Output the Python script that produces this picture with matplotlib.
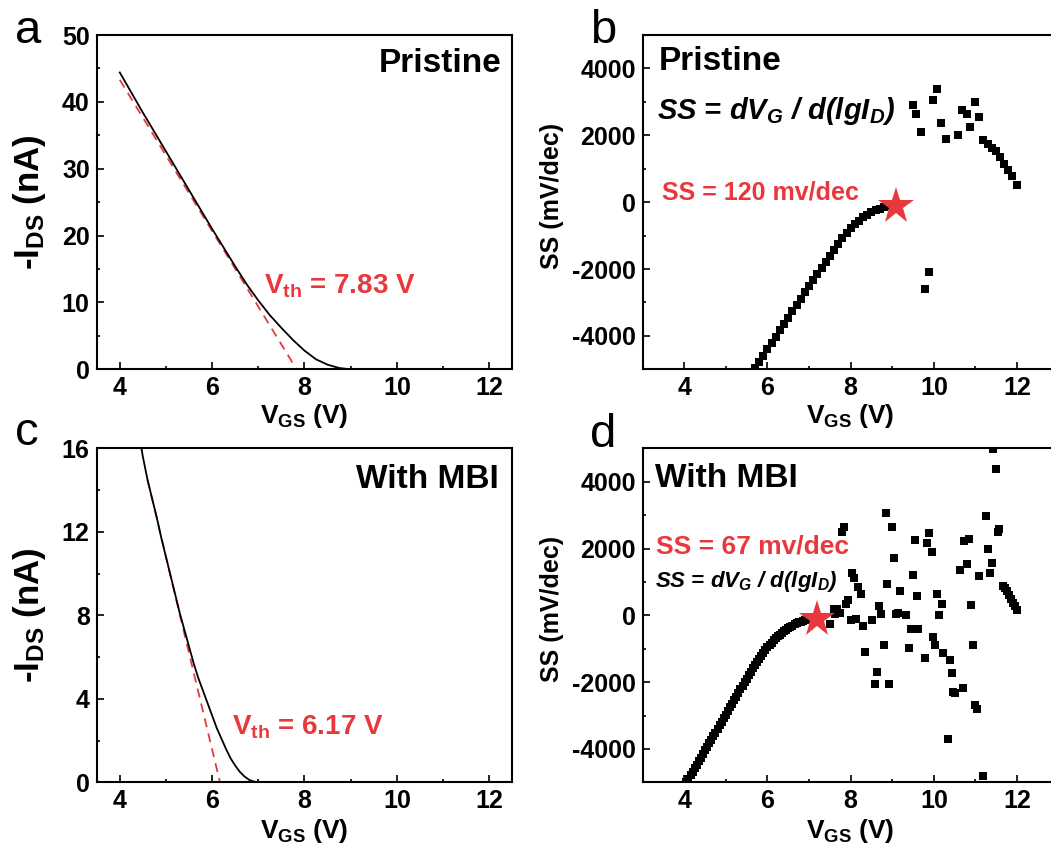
import matplotlib
matplotlib.use("Agg")
import matplotlib.pyplot as plt
from matplotlib.ticker import MultipleLocator

# ---------------------------------------------------------
# data
# ---------------------------------------------------------
# (a) transfer curve, pristine
vgs_a = [4.00, 4.25, 4.50, 4.75, 5.00, 5.25, 5.50, 5.75, 6.00, 6.25, 6.50,
         6.75, 7.00, 7.25, 7.50, 7.75, 8.00, 8.25, 8.50, 8.75, 9.00]
ids_a = [44.4, 41.4, 38.4, 35.5, 32.6, 29.7, 26.8, 23.9, 21.0, 18.2, 15.4,
         12.7, 10.3, 8.1, 6.2, 4.4, 2.8, 1.5, 0.7, 0.2, 0.0]
fit_a_v = [4.0, 7.83]
fit_a_i = [43.3, 0.0]

# (c) transfer curve, with MBI
vgs_c = [4.40, 4.50, 4.60, 4.70, 4.80, 4.90, 5.00, 5.10, 5.20, 5.30, 5.40,
         5.50, 5.60, 5.70, 5.80, 5.90, 6.00, 6.10, 6.20, 6.30, 6.40, 6.50,
         6.60, 6.70, 6.80, 6.90, 7.00]
ids_c = [16.9, 15.6, 14.5, 13.6, 12.7, 11.7, 10.8, 9.9, 9.0, 8.1, 7.3,
         6.5, 5.7, 5.0, 4.4, 3.8, 3.2, 2.6, 2.1, 1.6, 1.15, 0.8,
         0.5, 0.28, 0.12, 0.04, 0.0]
fit_c_v = [4.6, 6.17]
fit_c_i = [14.5, 0.0]

# (b) subthreshold swing, pristine
ss_b_v = [5.7, 5.8, 5.9, 6.0, 6.1, 6.2, 6.3, 6.4, 6.5, 6.6, 6.7, 6.8,
          6.9, 7.0, 7.1, 7.2, 7.3, 7.4, 7.5, 7.6, 7.7, 7.8, 7.9, 8.0,
          8.1, 8.2, 8.3, 8.4, 8.5, 8.6, 8.7, 8.8, 8.9, 9.0,
          9.49, 9.58, 9.69, 9.79, 9.89, 9.98, 10.08, 10.18, 10.28, 10.59,
          10.67, 10.79, 10.88, 10.99, 11.09, 11.19, 11.29, 11.39, 11.49,
          11.59, 11.69, 11.79, 11.89, 11.99]
ss_b = [-4970, -4780, -4590, -4400, -4210, -4020, -3830, -3640, -3455,
        -3265, -3075, -2890, -2700, -2515, -2330, -2150, -1960, -1775,
        -1595, -1420, -1245, -1080, -925, -785, -660, -550, -455, -375,
        -305, -245, -195, -155, -120, -95,
        2920, 2640, 2100, -2600, -2100, 3070, 3400, 2370, 1890, 2010,
        2770, 2630, 2250, 3010, 2550, 1850, 1750, 1620, 1520,
        1350, 1150, 970, 770, 520]
star_b = (9.1, -120)

# (d) subthreshold swing, with MBI
ss_d_v = [4.05, 4.10, 4.15, 4.20, 4.25, 4.30, 4.35, 4.40, 4.45, 4.50,
          4.55, 4.60, 4.65, 4.70, 4.75, 4.80, 4.85, 4.90, 4.95, 5.00,
          5.05, 5.10, 5.15, 5.20, 5.25, 5.30, 5.35, 5.40, 5.45, 5.50,
          5.55, 5.60, 5.65, 5.70, 5.75, 5.80, 5.85, 5.90, 5.95, 6.00,
          6.05, 6.10, 6.15, 6.20, 6.25, 6.30, 6.35, 6.40, 6.45, 6.50,
          6.55, 6.60, 6.65, 6.70, 6.75, 6.80, 6.85, 6.90, 6.95, 7.00,
          7.05, 7.10, 7.15,
          7.50, 7.60, 7.62, 7.66, 7.74, 7.79, 7.84, 7.89, 7.94, 8.00,
          8.03, 8.08, 8.13, 8.18, 8.24, 8.29, 8.34, 8.51, 8.59, 8.64,
          8.69, 8.73, 8.79, 8.84, 8.88, 8.93, 8.99, 9.04, 9.09, 9.13,
          9.19, 9.33, 9.39, 9.44, 9.49, 9.55, 9.59, 9.63, 9.79, 9.84,
          9.89, 9.95, 9.99, 10.03, 10.08, 10.13, 10.19, 10.23, 10.33, 10.39,
          10.44, 10.47, 10.51, 10.63, 10.69, 10.73, 10.79, 10.85, 10.89, 10.93,
          10.98, 11.04, 11.09, 11.19, 11.25, 11.30, 11.34, 11.39, 11.43, 11.49,
          11.54, 11.57, 11.65, 11.70, 11.75, 11.80, 11.85, 11.90, 11.95, 12.00]
ss_d = [-5000, -4900, -4790, -4690, -4580, -4470, -4370, -4260, -4150, -4040,
        -3940, -3830, -3720, -3610, -3510, -3400, -3290, -3190, -3080, -2980,
        -2870, -2760, -2650, -2550, -2440, -2330, -2220, -2120, -2010, -1900,
        -1800, -1690, -1590, -1490, -1390, -1300, -1210, -1120, -1040, -960,
        -885, -815, -750, -690, -630, -575, -525, -475, -430, -385,
        -345, -310, -275, -245, -215, -190, -165, -145, -125, -105,
        -90, -75, -65,
        -250, 200, 50, 200, 70, 2500, 2630, 330, 450, -150,
        1270, 1130, -100, 850, 650, -320, -1100, -150, -2050, -1710,
        280, 50, -880, 3070, 930, -2070, 2650, 1730, 30, 70,
        730, 20, -970, -400, 1220, 2270, 580, -420, -1270, 2170,
        2450, 1900, -650, -900, 630, 10, 350, -1130, -3710, -1350,
        -1720, -2300, -2320, 1370, -2170, 2230, 1550, 2290, 300, -880,
        -2680, -2820, 1190, -4820, 2970, 1980, 1280, 1570, 4970, 4370,
        2500, 2570, 870, 810, 720, 610, 500, 380, 270, 170]
star_d = (7.18, -100)

RED = "#E8383D"

plt.rcParams["font.family"] = ["Liberation Sans", "DejaVu Sans"]
plt.rcParams["font.weight"] = "bold"
plt.rcParams["axes.labelweight"] = "bold"
plt.rcParams["axes.unicode_minus"] = False
plt.rcParams["mathtext.fontset"] = "custom"
plt.rcParams["mathtext.rm"] = "Liberation Sans:bold"
plt.rcParams["mathtext.bf"] = "Liberation Sans:bold"
plt.rcParams["mathtext.it"] = "Liberation Sans:italic:bold"

fig = plt.figure(figsize=(10.51, 8.52), dpi=100)
ax_a = fig.add_axes([0.092, 0.5665, 0.3954, 0.3924])
ax_b = fig.add_axes([0.6115, 0.5665, 0.3958, 0.3924])
ax_c = fig.add_axes([0.092, 0.0818, 0.3954, 0.392])
ax_d = fig.add_axes([0.6115, 0.0818, 0.3958, 0.392])


def style(ax):
    for sp in ax.spines.values():
        sp.set_linewidth(1.5)
    ax.tick_params(which="both", direction="in", top=False, right=False,
                   width=1.2, labelsize=18, pad=5)
    ax.tick_params(which="major", length=5)
    ax.tick_params(which="minor", length=2.5)
    ax.xaxis.set_major_locator(MultipleLocator(2))
    ax.xaxis.set_minor_locator(MultipleLocator(1))


# ---- a ----
ax_a.plot(vgs_a, ids_a, color="black", lw=1.3, zorder=3)
ax_a.plot(fit_a_v, fit_a_i, color=RED, lw=1.3, dashes=(5, 3.5), zorder=2)
ax_a.set_xlim(3.5, 12.5)
ax_a.set_ylim(0, 50)
style(ax_a)
ax_a.yaxis.set_major_locator(MultipleLocator(10))
ax_a.yaxis.set_minor_locator(MultipleLocator(5))
ax_a.text(0.973, 0.89, "Pristine", transform=ax_a.transAxes, ha="right",
          va="baseline", fontsize=24, fontweight="bold")
ax_a.text(7.12, 11.4, r"$\mathrm{V_{th}}$ = 7.83 V", color=RED, fontsize=20,
          va="baseline", fontweight="bold")

# ---- c ----
ax_c.plot(vgs_c, ids_c, color="black", lw=1.3, zorder=3)
ax_c.plot(fit_c_v, fit_c_i, color=RED, lw=1.3, dashes=(5, 3.5), zorder=2)
ax_c.set_xlim(3.5, 12.5)
ax_c.set_ylim(0, 16)
style(ax_c)
ax_c.yaxis.set_major_locator(MultipleLocator(4))
ax_c.yaxis.set_minor_locator(MultipleLocator(2))
ax_c.text(0.968, 0.88, "With MBI", transform=ax_c.transAxes, ha="right",
          va="baseline", fontsize=24, fontweight="bold")
ax_c.text(6.44, 2.27, r"$\mathrm{V_{th}}$ = 6.17 V", color=RED, fontsize=20,
          va="baseline", fontweight="bold")

for ax in (ax_a, ax_c):
    ax.set_ylabel(r"-$\mathrm{I_{DS}}$ (nA)", fontsize=25, fontweight="bold")
    ax.yaxis.set_label_coords(-0.117, 0.5)

# ---- b / d ----
for ax, v, s, star in ((ax_b, ss_b_v, ss_b, star_b), (ax_d, ss_d_v, ss_d, star_d)):
    ax.plot(v, s, ls="none", marker="s", ms=5.5, color="black", mew=0)
    ax.plot([star[0]], [star[1]], ls="none", marker="*", ms=28, color=RED,
            mew=0, zorder=4)
    ax.set_xlim(3, 13)
    ax.set_ylim(-5000, 5000)
    style(ax)
    ax.yaxis.set_major_locator(MultipleLocator(2000))
    ax.yaxis.set_minor_locator(MultipleLocator(1000))
    ax.set_ylabel("SS (mV/dec)", fontsize=18, fontweight="bold")
    ax.yaxis.set_label_coords(-0.19, 0.52)

ax_b.text(0.0375, 0.895, "Pristine", transform=ax_b.transAxes, va="baseline",
          fontsize=24, fontweight="bold")
ax_b.text(0.034, 0.748, r"SS = dV$_G$ / d(lgI$_D$)", transform=ax_b.transAxes,
          va="baseline", fontsize=21, style="italic", fontweight="bold")
ax_b.text(0.0457, 0.5085, "SS = 120 mv/dec", transform=ax_b.transAxes,
          va="baseline", fontsize=18, color=RED, fontweight="bold")

ax_d.text(0.030, 0.885, "With MBI", transform=ax_d.transAxes, va="baseline",
          fontsize=24, fontweight="bold")
ax_d.text(0.032, 0.686, "SS = 67 mv/dec", transform=ax_d.transAxes,
          va="baseline", fontsize=19, color=RED, fontweight="bold")
ax_d.text(0.030, 0.586, r"SS = dV$_G$ / d(lgI$_D$)", transform=ax_d.transAxes,
          va="baseline", fontsize=16, style="italic", fontweight="bold")

for ax in (ax_a, ax_b, ax_c, ax_d):
    ax.set_xlabel(r"$\mathrm{V_{GS}}$ (V)", fontsize=19, fontweight="bold")
    for lbl in ax.get_xticklabels() + ax.get_yticklabels():
        lbl.set_fontweight("bold")
ax_a.xaxis.set_label_coords(0.5, -0.098)
ax_c.xaxis.set_label_coords(0.5, -0.104)
ax_b.xaxis.set_label_coords(0.5, -0.098)
ax_d.xaxis.set_label_coords(0.5, -0.104)

# panel letters
for x, y, lbl in ((0.0143, 0.9495, "a"), (0.561, 0.9495, "b"),
                  (0.0143, 0.4777, "c"), (0.561, 0.4754, "d")):
    fig.text(x, y, lbl, fontsize=34, fontweight="normal", va="baseline")

fig.savefig("out.png", dpi=100)
